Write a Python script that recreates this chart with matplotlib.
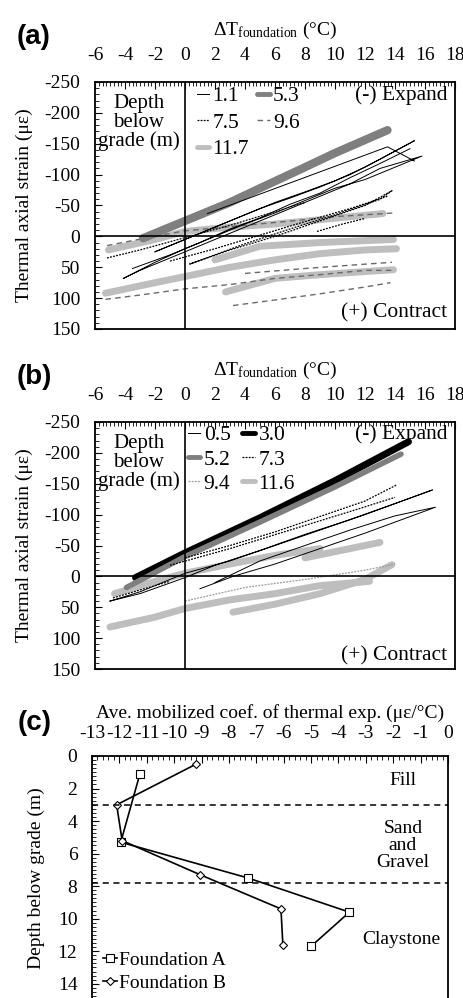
import numpy as np
import matplotlib
matplotlib.use('Agg')
import matplotlib.pyplot as plt
from matplotlib.ticker import MultipleLocator

plt.rcParams['font.family'] = 'Liberation Serif'
plt.rcParams['mathtext.fontset'] = 'custom'
plt.rcParams['mathtext.rm'] = 'Liberation Serif'
plt.rcParams['mathtext.it'] = 'Liberation Serif:italic'
plt.rcParams['axes.unicode_minus'] = False

NAN = np.nan

# ---------------- panel (a): Foundation A, (dT, strain) traces
a_d11_t = [-4.1, -3, -1, 1, 3, 5, 7, 9, 11, 13, 15.8, 14, 12, 10, 8, 6, 4, 2, 0, -2, -4.1, NAN,
           -2, 0, 2, 4, 6, 8, 10, 12, 15.3, 13, 11, 9, 7, 5, 3, 1, -2, NAN,
           -3.5, -1, 1, 3, 5, 7, 9, 11, 13, 15, NAN,
           1.5, 13.5, 15.3]
a_d11_s = [68, 55, 35, 15, -5, -25, -45, -65, -85, -110, -130, -112, -92, -78, -58, -38, -20, 0, 20, 42, 68, NAN,
           25, 5, -15, -35, -55, -72, -90, -112, -155, -125, -100, -80, -62, -45, -25, -5, 25, NAN,
           52, 30, 10, -12, -30, -52, -70, -95, -118, -142, NAN,
           -37, -145, -122]
a_d53_t = [-2.8, 0, 3, 5, 8, 10, 13.5]
a_d53_s = [3, -25, -55, -78, -112, -135, -172]
a_d75_t = [0.3, 3, 6, 9, 12, 13.8, 13, 10, 7, 4, 0.3, NAN,
           -5.2, -3, 0, 3, 6, 8, NAN, 8.8, 10.5, 12, NAN, -1, 2, 5, 8, 11, 13.5]
a_d75_s = [45, 22, 0, -25, -50, -74, -60, -35, -12, 12, 45, NAN,
           35, 22, 2, -18, -40, -55, NAN, -8, -20, -29, NAN, 40, 20, -2, -24, -45, -65]
a_d96_t = [-5.3, -3, 0, 3, 6, 9, 12, 13.8, NAN, 3.2, 6, 9, 12, 13.7, NAN,
           -5.2, -2.5, 0, 4, 8, 10, 14, NAN, 4, 8, 12, 13.8]
a_d96_s = [102, 95, 85, 78, 68, 62, 55, 55, NAN, 112, 103, 93, 82, 75, NAN,
           15, 2, -9, -18, -27, -32, -38, NAN, 60, 52, 45, 42]
a_d117_t = [-5.3, -2, 0, 3, 6, 9, 12, 14.1, NAN, 2.7, 6, 9, 12, 13.9, NAN,
            2, 5, 9, 13.9, NAN, -5.1, -2, 0, 3, 6, 9, 13.2]
a_d117_s = [92, 75, 65, 50, 38, 28, 22, 20, NAN, 90, 68, 62, 57, 54, NAN,
            38, 16, 10, 5, NAN, 22, 5, -8, -15, -20, -27, -37]

# ---------------- panel (b): Foundation B
b_d05_t = [-5, -3, 0, 3, 6, 9, 12, 16.5, 14, 11, 8, 5, 2, 0, -3, -5, NAN,
           1, 3.2, 6, 9, 12, 16.7, 14, 11, 8, 5, 2]
b_d05_s = [40, 25, -5, -25, -50, -75, -100, -140, -118, -92, -68, -42, -18, 2, 28, 40, NAN,
           20, 0, -20, -45, -70, -112, -98, -75, -50, -25, 10]
b_d30_t = [-3.3, 0, 5, 10, 14.9]
b_d30_s = [2, -38, -95, -155, -218]
b_d52_t = [-3.9, 0, 5, 10, 14.4]
b_d52_s = [18, -32, -88, -145, -198]
b_d73_t = [0, 3, 6, 9, 12, 14.1, NAN, -1, 3, 7, 11, 14, NAN, -4.8, -3, -1]
b_d73_s = [-30, -50, -72, -97, -122, -148, NAN, -18, -45, -75, -105, -128, NAN, 35, 22, 8]
b_d94_t = [0, 4, 8, 12, 14]
b_d94_s = [40, 18, 5, -10, -20]
b_d116_t = [-5, -2, 0, 3, 6, 9, 12.3, NAN, 3.2, 6, 9, 12, 13.8, NAN,
            -4.7, -2, 0, 3, 6, 9, NAN, 8, 11, 13]
b_d116_s = [82, 66, 52, 38, 28, 15, 8, NAN, 58, 45, 28, 5, -19, NAN,
            28, 8, -5, -20, -34, -45, NAN, -30, -45, -55]

# ---------------- panel (c): average mobilized coefficient vs depth
fa_depth = [1.1, 5.3, 7.5, 9.6, 11.7]
fa_coef = [-11.25, -11.95, -7.3, -3.6, -5.0]
fb_depth = [0.5, 3.0, 5.2, 7.3, 9.4, 11.6]
fb_coef = [-9.2, -12.1, -11.9, -9.05, -6.1, -6.03]
layer_bounds = [3.0, 7.8]

FS = 14        # ticks and axis labels
FT = 15.5      # annotations in (a), (b)
FC = 14        # annotations in (c)
DARK = '#7f7f7f'
LIGHT = '#bebebe'
MID = '#6a6a6a'


def style_strain_axes(ax, lbl, expand_s, contract_s):
    ax.set_xlim(-6, 18)
    ax.set_ylim(150, -250)
    ax.xaxis.tick_top()
    ax.xaxis.set_label_position('top')
    ax.set_xticks(np.arange(-6, 19, 2))
    ax.xaxis.set_minor_locator(MultipleLocator(0.25))
    ax.set_yticks(np.arange(-250, 151, 50))
    ax.yaxis.set_minor_locator(MultipleLocator(10))
    ax.tick_params(axis='x', which='major', direction='in', length=5, labelsize=FS, pad=13)
    ax.tick_params(axis='x', which='minor', direction='in', length=3)
    ax.tick_params(axis='y', which='major', direction='in', length=5, labelsize=FS, pad=10.5)
    ax.tick_params(axis='y', which='minor', direction='in', length=3)
    ax.set_xlabel(r'$\Delta\mathrm{T}_{\mathrm{foundation}}$ (°C)', fontsize=FS, labelpad=9)
    ax.set_ylabel('Thermal axial strain (με)', fontsize=FS, labelpad=8)
    for sp in ax.spines.values():
        sp.set_linewidth(1.3)
    ax.axhline(0, color='k', lw=1.2, zorder=5)
    ax.axvline(0, color='k', lw=1.2, zorder=5)
    ax.text(-3.1, -184, 'Depth\nbelow\ngrade (m)', ha='center', va='center',
            fontsize=FT - 0.5, linespacing=0.98)
    ax.text(17.5, expand_s, '(-) Expand', ha='right', va='baseline', fontsize=FT, zorder=6)
    ax.text(17.5, contract_s, '(+) Contract', ha='right', va='baseline', fontsize=FT)
    ax.text(-0.217, 1.182, lbl, transform=ax.transAxes, fontsize=20,
            fontweight='bold', family='Liberation Sans', va='center', ha='left')


def fatten_legend(leg):
    for lh in leg.get_lines():
        if lh.get_linewidth() > 3:
            lh.set_linewidth(3.5)


fig = plt.figure(figsize=(4.63, 9.98), dpi=100)

# ---- (a)
ax1 = fig.add_axes([95 / 463, 1 - 329 / 998, 360 / 463, 247 / 998])
h117, = ax1.plot(a_d117_t, a_d117_s, color=LIGHT, lw=5, solid_capstyle='round', label='11.7')
h96, = ax1.plot(a_d96_t, a_d96_s, color=MID, lw=1.0, ls=(0, (4, 3)), label='9.6')
h53, = ax1.plot(a_d53_t, a_d53_s, color=DARK, lw=6, solid_capstyle='round', label='5.3')
h75, = ax1.plot(a_d75_t, a_d75_s, color='k', lw=0.9, ls=(0, (1.5, 1)), label='7.5')
h11, = ax1.plot(a_d11_t, a_d11_s, color='k', lw=0.7, label='1.1')
style_strain_axes(ax1, '(a)', -221, 131)
leg = ax1.legend([h11, h75, h117, h53, h96], ['1.1', '7.5', '11.7', '5.3', '9.6'],
                 ncol=2, loc='upper left', bbox_to_anchor=(0.27, 1.0), frameon=False,
                 fontsize=FT, handlelength=0.6, handletextpad=0.15, columnspacing=0.35,
                 labelspacing=0.3, borderaxespad=0, borderpad=0.2)
fatten_legend(leg)

# ---- (b)
ax2 = fig.add_axes([95 / 463, 1 - 669 / 998, 360 / 463, 247 / 998])
g116, = ax2.plot(b_d116_t, b_d116_s, color=LIGHT, lw=5, solid_capstyle='round', label='11.6')
g94, = ax2.plot(b_d94_t, b_d94_s, color='#9a9a9a', lw=0.9, ls=(0, (1.5, 1)), label='9.4')
g30, = ax2.plot(b_d30_t, b_d30_s, color='k', lw=5, solid_capstyle='round', label='3.0')
g52, = ax2.plot(b_d52_t, b_d52_s, color=DARK, lw=4, solid_capstyle='round', label='5.2')
g73, = ax2.plot(b_d73_t, b_d73_s, color='k', lw=0.9, ls=(0, (1.5, 1)), label='7.3')
g05, = ax2.plot(b_d05_t, b_d05_s, color='k', lw=0.7, label='0.5')
style_strain_axes(ax2, '(b)', -222, 137)
leg2 = ax2.legend([g05, g52, g94, g30, g73, g116], ['0.5', '5.2', '9.4', '3.0', '7.3', '11.6'],
                  ncol=2, loc='upper left', bbox_to_anchor=(0.245, 1.005), frameon=False,
                  fontsize=FT, handlelength=0.6, handletextpad=0.15, columnspacing=0.55,
                  labelspacing=0.2, borderaxespad=0, borderpad=0.2)
fatten_legend(leg2)

# ---- (c)
ax3 = fig.add_axes([92 / 463, 1 - 1000 / 998, 356 / 463, 244 / 998])
ax3.plot(fa_coef, fa_depth, color='k', lw=1.2, marker='s', ms=5.5, mfc='white',
         mec='k', mew=0.8, label='Foundation A')
ax3.plot(fb_coef, fb_depth, color='k', lw=1.2, marker='D', ms=3.8, mfc='white',
         mec='k', mew=0.8, label='Foundation B')
for d in layer_bounds:
    ax3.axhline(d, color='k', lw=1.1, ls=(0, (4, 3)))
ax3.set_xlim(-13, 0)
ax3.set_ylim(15, 0)
ax3.xaxis.tick_top()
ax3.xaxis.set_label_position('top')
ax3.set_xticks(np.arange(-13, 1, 1))
ax3.xaxis.set_minor_locator(MultipleLocator(0.2))
ax3.set_yticks(np.arange(0, 15, 2))
ax3.yaxis.set_minor_locator(MultipleLocator(0.25))
ax3.tick_params(axis='x', which='major', direction='in', length=5, labelsize=FS, pad=10)
ax3.tick_params(axis='x', which='minor', direction='in', length=3)
ax3.tick_params(axis='y', which='major', direction='in', length=5, labelsize=FS, pad=10.5)
ax3.tick_params(axis='y', which='minor', direction='in', length=3)
ax3.set_xlabel('Ave. mobilized coef. of thermal exp. (με/°C)', fontsize=FC, labelpad=5)
ax3.set_ylabel('Depth below grade (m)', fontsize=FC, labelpad=9)
for sp in ax3.spines.values():
    sp.set_linewidth(1.3)
ax3.text(-1.65, 1.5, 'Fill', ha='center', va='center', fontsize=FC)
ax3.text(-1.65, 5.5, 'Sand\nand\nGravel', ha='center', va='center', fontsize=FC, linespacing=1.0)
ax3.text(-1.7, 11.3, 'Claystone', ha='center', va='center', fontsize=FC)
ax3.legend(loc='upper left', bbox_to_anchor=(0.02, 1 - 11.75 / 15), frameon=False, fontsize=FC,
           handlelength=0.7, handletextpad=0.1, labelspacing=0.3, borderaxespad=0,
           borderpad=0.2)
ax3.text(-0.21, 1.135, '(c)', transform=ax3.transAxes, fontsize=20,
         fontweight='bold', family='Liberation Sans', va='center', ha='left')

fig.savefig('out.png', dpi=100)
